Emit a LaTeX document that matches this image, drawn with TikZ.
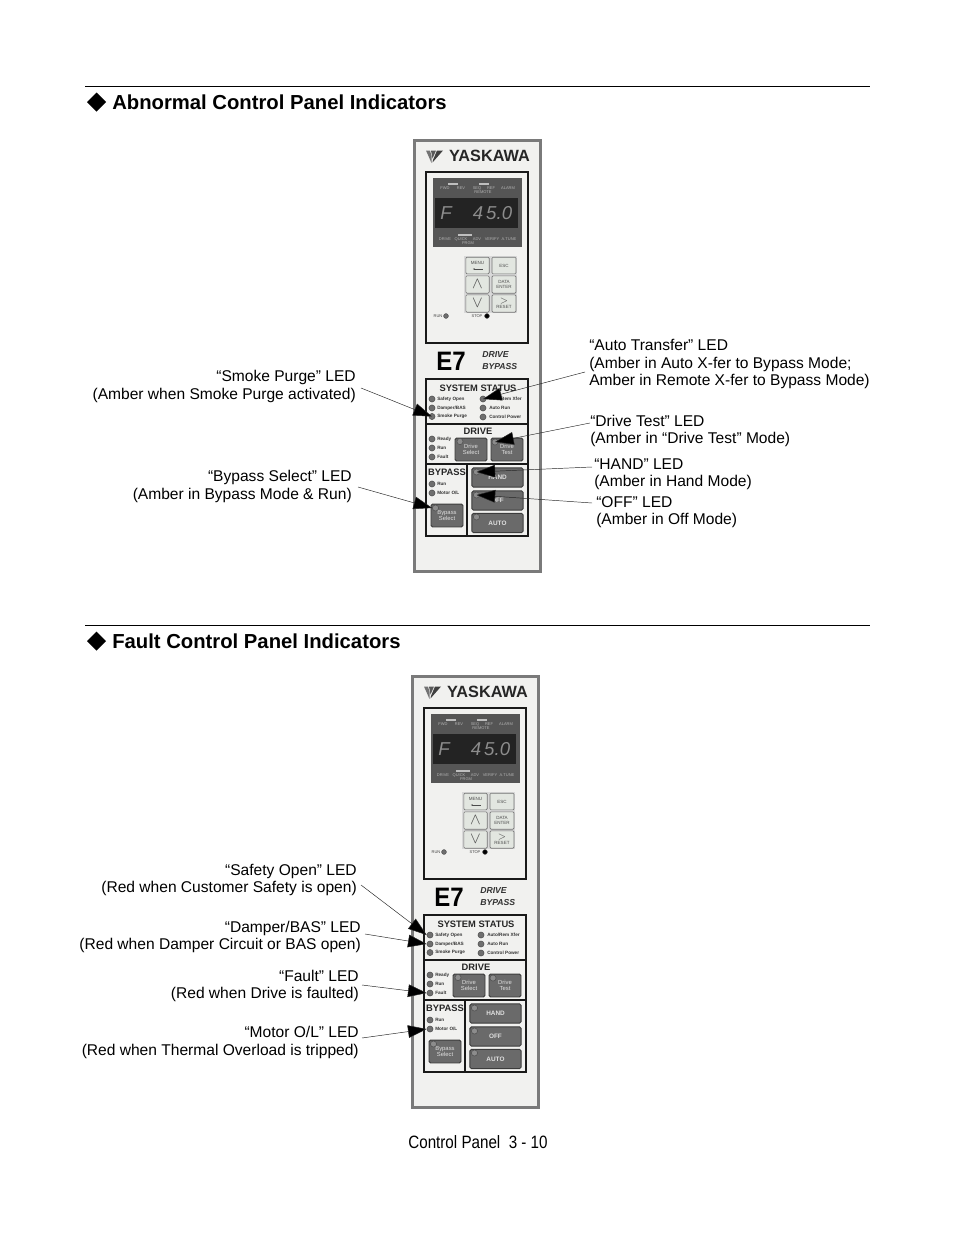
\documentclass[tikz,border=0pt]{standalone}
\usepackage{fontspec}
\setmainfont{Liberation Sans}
\usetikzlibrary{arrows.meta}
\definecolor{panelfill}{HTML}{F1F1EF}
\definecolor{panelrim}{HTML}{7A7A7A}
\definecolor{dispdark}{HTML}{555555}
\definecolor{digitbg}{HTML}{232323}
\definecolor{btn}{HTML}{6A6A6A}
\definecolor{btnrim}{HTML}{3C3C3C}
\definecolor{keyfill}{HTML}{E2E6E0}
\definecolor{ledc}{HTML}{6F6F6F}
\tikzset{
  x=.75pt,y=-.75pt,
  lbl/.style={inner sep=0pt,font=\fontsize{11.68}{13.1}\selectfont,align=left},
  lblr/.style={lbl,align=right},
  title/.style={inner sep=0pt,anchor=west,font=\bfseries\fontsize{15.2}{18}\selectfont},
  rulez/.style={line width=.6pt,black},
  leader/.style={line width=.35pt,black!85,-{Triangle[length=14pt,width=9.5pt,fill=black]}},
  led/.style={circle,draw=black!70,fill=ledc,line width=.35pt,minimum size=4.6pt,inner sep=0pt},
  bigbtn/.style={draw=btnrim,fill=btn,rounded corners=1.2pt,line width=.7pt,inner sep=0pt,text=black!12,font=\bfseries\fontsize{4.8}{5.2}\selectfont,align=center},
  key/.style={draw=black!55,fill=keyfill,rounded corners=.8pt,line width=.5pt,inner sep=0pt,text=black!70,font=\fontsize{3.4}{3.8}\selectfont,align=center},
  tiny/.style={inner sep=0pt,anchor=west,font=\bfseries\fontsize{3.5}{4}\selectfont,text=black!80},
  disp/.style={inner sep=0pt,text=black!30,font=\fontsize{3}{3.2}\selectfont,align=center},
  head/.style={inner sep=0pt,font=\bfseries\fontsize{7}{7.4}\selectfont,text=black!85},
  digit/.style={inner sep=0pt,text=black!45,font=\itshape\fontsize{14}{14}\selectfont},
  boxline/.style={draw=black!90,line width=.8pt},
}
\newcommand{\yaskpanel}[3]{%
\begin{scope}[shift={(#2,#3)}]
  \node[draw=panelrim,fill=panelfill,line width=1.9pt,outer sep=0pt,minimum width=94.5pt,minimum height=323.25pt,inner sep=0pt] (#1outer) at (477.5,356) {};
  % logo
  \fill[black!55] (426,150.5) -- (430,150.5) -- (431.5,156) -- (431.5,163) -- cycle;
  \fill[black!65] (431,150.5) -- (436,150.5) -- (432.5,158.5) -- cycle;
  \fill[black!75] (437,150.5) -- (443,150.5) -- (432.5,162.5) -- (433,160) -- cycle;
  \node[inner sep=0pt,font=\bfseries\fontsize{12.2}{13}\selectfont,text=black!85] (#1brand) at (489.5,156) {YASKAWA};
  % upper frame
  \draw[boxline,fill=panelfill] (426,172) rectangle (528,343);
  \fill[dispdark] (433,178) rectangle (522,247);
  \fill[digitbg] (435,198) rectangle (518,228);
  \node[digit] (#1dF) at (446,213) {F};
  \node[digit] (#1d4) at (478,213) {4};
  \node[digit] (#1d5) at (494,213) {5.};
  \node[digit] (#1d0) at (507,213) {0};
  \draw[black!25,line width=.8pt] (448,184) -- (458,184) (479,184) -- (489,184) (458,235) -- (472,235);
  \node[disp] (#1f1) at (445,188) {FWD};
  \node[disp] (#1f2) at (461,188) {REV};
  \node[disp] (#1f3) at (477,188) {SEQ};
  \node[disp] (#1f4) at (491,188) {REF};
  \node[disp] (#1f5) at (508,188) {ALARM};
  \node[disp] (#1f6) at (483,192) {REMOTE};
  \node[disp] (#1g1) at (445,239) {DRIVE};
  \node[disp] (#1g2) at (461,239) {QUICK};
  \node[disp] (#1g3) at (477,239) {ADV};
  \node[disp] (#1g4) at (492,239) {VERIFY};
  \node[disp] (#1g5) at (509,239) {A.TUNE};
  \node[disp] (#1g6) at (468,243) {PRGM};
  % keypad
  \fill[black!15] (464,256) rectangle (517,313);
  \node[key,minimum width=17.5pt,minimum height=12.5pt] (#1menu) at (477.5,265.5) {MENU\\\phantom{M}};
  \draw[black!70,line width=.4pt,-{Latex[length=1.6pt]}] ([shift={(5,3.5)}]#1menu.center) -- ([shift={(-5,3.5)}]#1menu.center);
  \node[key,minimum width=18pt,minimum height=12.5pt] (#1esc) at (504,265.5) {ESC};
  \node[key,minimum width=17.5pt,minimum height=13pt,font=\fontsize{13}{13}\selectfont] (#1up) at (477.5,284.5) {$\wedge$};
  \node[key,minimum width=18pt,minimum height=13pt] (#1data) at (504,284.5) {DATA\\ENTER};
  \node[key,minimum width=17.5pt,minimum height=13pt,font=\fontsize{13}{13}\selectfont] (#1dn) at (477.5,303.5) {$\vee$};
  \node[key,minimum width=18pt,minimum height=13pt] (#1rst) at (504,303.5) {{\bfseries\fontsize{7}{5}\selectfont $>$}\\RESET};
  \node[led,minimum size=3.6pt] (#1runl) at (446,316) {};
  \node[led,minimum size=3.6pt,fill=black] (#1stopl) at (487,316) {};
  \node[disp,text=black!75] (#1runt) at (438,316) {RUN};
  \node[disp,text=black!75] (#1stopt) at (477,316) {STOP};
  % E7
  \node[inner sep=0pt,xscale=.9,font=\bfseries\fontsize{20}{20}\selectfont] (#1e7) at (451,361) {E7};
  \node[inner sep=0pt,anchor=west,font=\bfseries\itshape\fontsize{6.5}{7}\selectfont,text=black!80] (#1dr) at (482,355) {DRIVE};
  \node[inner sep=0pt,anchor=west,font=\bfseries\itshape\fontsize{6.5}{7}\selectfont,text=black!80] (#1by) at (482,367) {BYPASS};
  % lower frame
  \draw[boxline] (426,379) rectangle (528,536) (426,424) -- (528,424) (426,464) -- (528,464) (467,464) -- (467,536);
  \node[head] (#1ss) at (478,388.5) {SYSTEM STATUS};
  \node[head] (#1dv) at (478,431.5) {DRIVE};
  \node[head] (#1bp) at (447,472) {BYPASS};
  \foreach \nm/\yy/\tt in {safe/399/{Safety Open},damp/408/{Damper/BAS},smok/416.5/{Smoke Purge}}{
    \node[led] (#1\nm) at (432,\yy) {};
    \node[tiny] (#1\nm t) at (437,\yy) {\tt};
  }
  \foreach \nm/\yy/\tt in {auto/399/{Auto/Rem Xfer},arun/408/{Auto Run},ctrl/417/{Control Power}}{
    \node[led] (#1\nm) at (483,\yy) {};
    \node[tiny] (#1\nm t) at (489,\yy) {\tt};
  }
  \foreach \nm/\yy/\tt in {rdy/439/Ready,runn/448/Run,flt/457/Fault}{
    \node[led] (#1\nm) at (432,\yy) {};
    \node[tiny] (#1\nm t) at (437,\yy) {\tt};
  }
  \node[led] (#1brun) at (432,484) {};
  \node[tiny] (#1bruntt) at (437,484) {Run};
  \node[led] (#1bmot) at (432,493) {};
  \node[tiny] (#1bmottt) at (437,493) {Motor O/L};
  \node[bigbtn,minimum width=24pt,minimum height=17.2pt,font=\fontsize{4.4}{4.8}\selectfont] (#1dsel) at (471,449.5) {Drive\\Select};
  \node[bigbtn,minimum width=24pt,minimum height=17.2pt,font=\fontsize{4.4}{4.8}\selectfont] (#1dtst) at (507,449.5) {Drive\\Test};
  \node[bigbtn,minimum width=38.5pt,minimum height=14.4pt] (#1hand) at (497.5,477.5) {HAND};
  \node[bigbtn,minimum width=38.5pt,minimum height=14.4pt] (#1off) at (497.5,500.5) {OFF};
  \node[bigbtn,minimum width=38.5pt,minimum height=14.4pt] (#1aut) at (497.5,523) {AUTO};
  \node[bigbtn,minimum width=24pt,minimum height=17.2pt,font=\fontsize{4.4}{4.8}\selectfont] (#1bsel) at (447,515.5) {Bypass\\Select};
  \node[led,fill=black!45] (#1ldsel) at (460,441.5) {};
  \node[led,fill=black!45] (#1ldtst) at (495,442) {};
  \node[led,fill=black!45] (#1lhand) at (476.5,472) {};
  \node[led,fill=black!45] (#1loff) at (476.5,495) {};
  \node[led,fill=black!45] (#1laut) at (476.5,517) {};
  \node[led,fill=black!45] (#1lbsel) at (435.5,508) {};
\end{scope}}
\begin{document}
\begin{tikzpicture}
\useasboundingbox[fill=white] (0,0) rectangle (954,1235);
\coordinate (r1a) at (85,86); \coordinate (r1b) at (870,86);
\coordinate (r2a) at (85,625); \coordinate (r2b) at (870,625);
\draw[rulez] (r1a) -- (r1b);
\draw[rulez] (r2a) -- (r2b);
\fill (96.5,92.5) -- (106,102) -- (96.5,111.5) -- (87,102) -- cycle;
\fill (96.5,631.5) -- (106,641) -- (96.5,650.5) -- (87,641) -- cycle;
\node[title] (t1) at (112,102) {Abnormal Control Panel Indicators};
\node[title] (t2) at (112,641) {Fault Control Panel Indicators};

\yaskpanel{a}{0}{0}
\yaskpanel{b}{-2}{536}

% labels, first panel
\node[lblr,anchor=east] (lsm) at (356,386.5) {“Smoke Purge” LED\\(Amber when Smoke Purge activated)};
\node[lblr,anchor=east] (lby) at (352,486.5) {“Bypass Select” LED\\(Amber in Bypass Mode \& Run)};
\node[lbl,anchor=west] (lau) at (589,364) {“Auto Transfer” LED\\(Amber in Auto X-fer to Bypass Mode;\\Amber in Remote X-fer to Bypass Mode)};
\node[lbl,anchor=west] (ldt) at (590,431) {“Drive Test” LED\\(Amber in “Drive Test” Mode)};
\node[lbl,anchor=west] (lha) at (594,474) {“HAND” LED\\(Amber in Hand Mode)};
\node[lbl,anchor=west] (lof) at (596,512) {“OFF” LED\\(Amber in Off Mode)};
% labels, second panel
\node[lblr,anchor=east] (lsa) at (357,880) {“Safety Open” LED\\(Red when Customer Safety is open)};
\node[lblr,anchor=east] (lda) at (361,937) {“Damper/BAS” LED\\(Red when Damper Circuit or BAS open)};
\node[lblr,anchor=east] (lfa) at (359,986) {“Fault” LED\\(Red when Drive is faulted)};
\node[lblr,anchor=east] (lmo) at (359,1042.5) {“Motor O/L” LED\\(Red when Thermal Overload is tripped)};

% free ends
\coordinate (e1) at (361,388);
\coordinate (e2) at (358,487);
\coordinate (e3) at (585,372);
\coordinate (e4a) at (590,423);
\coordinate (e5) at (592,467);
\coordinate (e6) at (592,503);
\coordinate (e7) at (361,885);
\coordinate (e8) at (365,934);
\coordinate (e9) at (362,985);
\coordinate (e10) at (362,1038);
% connectors
\draw[leader] (e1) -- (asmok.center);
\draw[leader] (e2) -- (albsel.west);
\draw[leader] (e3) -- (aauto.center);
\draw[leader] (e4a) -- (aldtst.center);
\draw[leader] (e5) -- (alhand.center);
\draw[leader] (e6) -- (aloff.center);
\draw[leader] (e7) -- (bsafe.west);
\draw[leader] (e8) -- (bdamp.west);
\draw[leader] (e9) -- (bflt.west);
\draw[leader] (e10) -- (bbmot.west);

\node[inner sep=0pt,xscale=.85,font=\fontsize{13.4}{16}\selectfont] (foot) at (478,1142) {Control Panel\ \ 3 - 10};
\end{tikzpicture}
\end{document}
